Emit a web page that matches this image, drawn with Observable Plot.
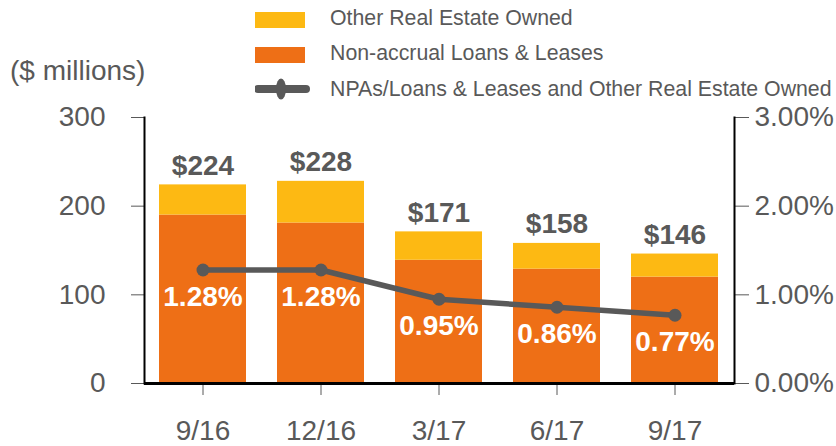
<!DOCTYPE html>
<html>
<head>
<meta charset="utf-8">
<script src="https://cdn.jsdelivr.net/npm/d3@7"></script>
<script src="https://cdn.jsdelivr.net/npm/@observablehq/plot@0.6"></script>
<style>
  html, body { margin: 0; padding: 0; background: #fff; }
  body { font-family: "Liberation Sans", Arial, sans-serif; }
  #wrap { position: relative; width: 836px; height: 446px; overflow: hidden; }
  .legend { position: absolute; left: 255px; top: 0; color: #595959; font-size: 21.3px; }
  .item { position: absolute; left: 0; white-space: nowrap; height: 24px; }
  .sw { position: absolute; left: 0; width: 50px; height: 16px; }
  .lab { position: absolute; left: 75px; top: 0; line-height: 24px; }
  .unit { position: absolute; left: 10px; top: 55px; font-size: 28px; color: #595959; }
</style>
</head>
<body>
<div id="wrap">
  <div id="chart"></div>
  <div class="unit">($ millions)</div>
  <div class="legend" id="legend"></div>
</div>
<script>
const periods = ["9/16", "12/16", "3/17", "6/17", "9/17"];
const nonAccrual = [190, 181, 139, 129, 120];
const oreo = [34, 47, 32, 29, 26];
const totals = [224, 228, 171, 158, 146];
const npaRatio = [1.28, 1.28, 0.95, 0.86, 0.77];
const leftTicks = [0, 100, 200, 300];
const rightTickLabels = ["0.00%", "1.00%", "2.00%", "3.00%"];
const seriesNames = ["Non-accrual Loans & Leases", "Other Real Estate Owned"];
const lineName = "NPAs/Loans & Leases and Other Real Estate Owned";

const orange = "#EE6F16";
const yellow = "#FDB913";
const gray = "#595959";

const long = [];
periods.forEach((p, i) => {
  long.push({period: p, series: seriesNames[0], value: nonAccrual[i]});
  long.push({period: p, series: seriesNames[1], value: oreo[i]});
});
const tot = periods.map((p, i) => ({period: p, total: totals[i]}));
const ratio = periods.map((p, i) => ({period: p, pct: npaRatio[i], y: npaRatio[i] * 100}));

const font = '"Liberation Sans", Arial, sans-serif';

const chart = Plot.plot({
  width: 836,
  height: 446,
  marginLeft: 144,
  marginRight: 102,
  marginTop: 117,
  marginBottom: 63,
  style: {fontFamily: font, color: gray, background: "white"},
  x: {domain: periods, paddingInner: 0.26, paddingOuter: 0.13, axis: null, label: null},
  y: {domain: [0, 300], axis: null, label: null},
  color: {domain: seriesNames, range: [orange, yellow]},
  marks: [
    Plot.barY(long, {x: "period", y: "value", fill: "series"}),
    Plot.axisY(leftTicks, {anchor: "left", label: null, tickSize: 13, tickPadding: 26, fontSize: 28, fill: gray, stroke: gray}),
    Plot.axisY(leftTicks, {anchor: "right", label: null, tickSize: 14, tickPadding: 6, fontSize: 28, fill: gray, stroke: gray,
      tickFormat: d => rightTickLabels[leftTicks.indexOf(d)]}),
    Plot.axisX(periods, {anchor: "bottom", label: null, tickSize: 12, tickPadding: 25, fontSize: 28, fill: gray, stroke: gray}),
    Plot.frame({anchor: "left", stroke: "black", strokeWidth: 2}),
    Plot.frame({anchor: "right", stroke: "black", strokeWidth: 2}),
    Plot.ruleY([0], {stroke: "black", strokeWidth: 3}),
    Plot.line(ratio, {x: "period", y: "y", stroke: gray, strokeWidth: 5.5}),
    Plot.dot(ratio, {x: "period", y: "y", r: 6.5, fill: gray}),
    Plot.text(ratio, {x: "period", y: "y", text: d => d.pct.toFixed(2) + "%", dy: 27, fill: "white",
      fontSize: 28, fontWeight: "bold", lineAnchor: "middle"}),
    Plot.text(tot, {x: "period", y: "total", text: d => "$" + d.total, dy: -19, fill: gray,
      fontSize: 28, fontWeight: "bold", lineAnchor: "middle"})
  ]
});
document.getElementById("chart").appendChild(chart);

// legend
const legend = document.getElementById("legend");
const items = [
  {label: seriesNames[1], type: "swatch", color: yellow, top: 6},
  {label: seriesNames[0], type: "swatch", color: orange, top: 41},
  {label: lineName, type: "line", color: gray, top: 77}
];
items.forEach(it => {
  const d = document.createElement("div");
  d.className = "item";
  d.style.top = it.top + "px";
  if (it.type === "swatch") {
    const s = document.createElement("div");
    s.className = "sw";
    s.style.background = it.color;
    s.style.top = "6px";
    d.appendChild(s);
  } else {
    const ns = "http://www.w3.org/2000/svg";
    const svg = document.createElementNS(ns, "svg");
    svg.setAttribute("width", "58");
    svg.setAttribute("height", "26");
    svg.style.position = "absolute";
    svg.style.left = "0px";
    svg.style.top = "-1px";
    const ln = document.createElementNS(ns, "line");
    ln.setAttribute("x1", "3"); ln.setAttribute("x2", "51");
    ln.setAttribute("y1", "13"); ln.setAttribute("y2", "13");
    ln.setAttribute("stroke", it.color); ln.setAttribute("stroke-width", "8");
    ln.setAttribute("stroke-linecap", "round");
    svg.appendChild(ln);
    const el = document.createElementNS(ns, "ellipse");
    el.setAttribute("cx", "26"); el.setAttribute("cy", "13");
    el.setAttribute("rx", "5"); el.setAttribute("ry", "10.5");
    el.setAttribute("fill", it.color);
    svg.appendChild(el);
    d.appendChild(svg);
  }
  const l = document.createElement("div");
  l.className = "lab";
  l.textContent = it.label;
  d.appendChild(l);
  legend.appendChild(d);
});
</script>
</body>
</html>
